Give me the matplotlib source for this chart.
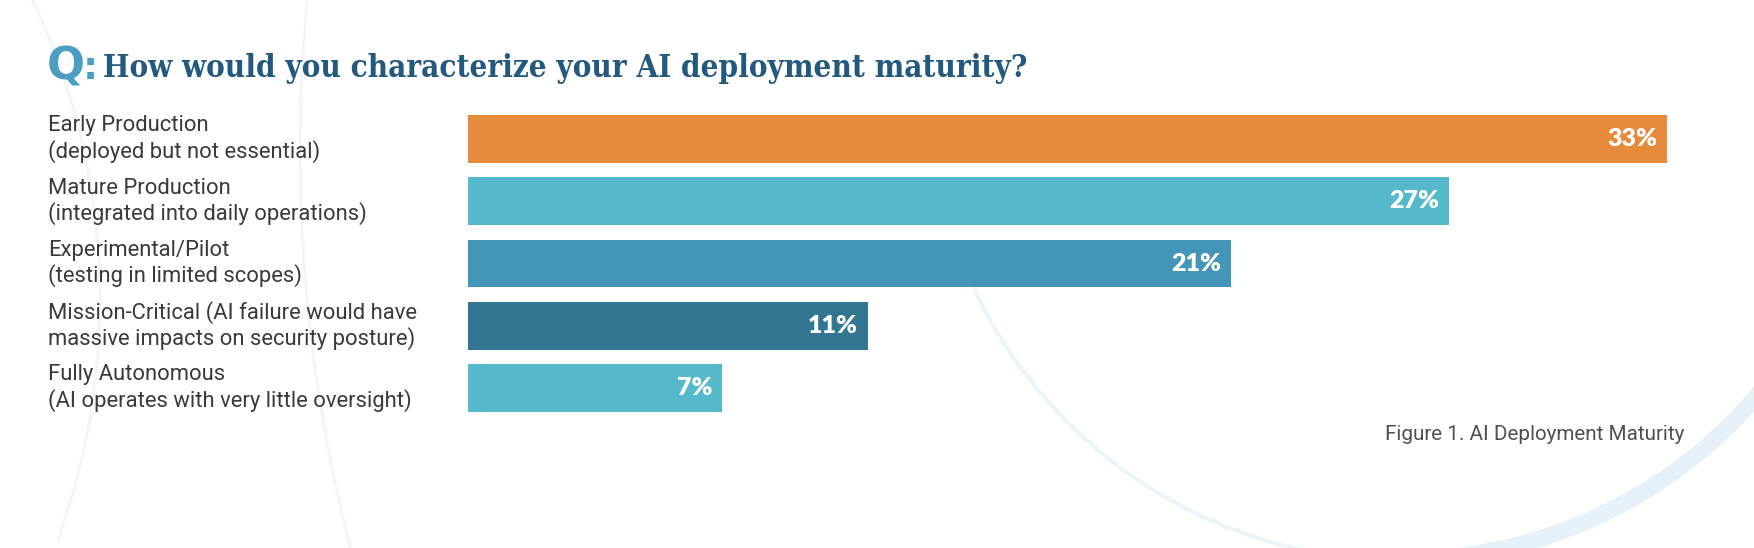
import matplotlib.pyplot as plt
import matplotlib.transforms as mtransforms
from matplotlib.patches import Arc

# data
categories = [
    "Early Production\n(deployed but not essential)",
    "Mature Production\n(integrated into daily operations)",
    "Experimental/Pilot\n(testing in limited scopes)",
    "Mission-Critical (AI failure would have\nmassive impacts on security posture)",
    "Fully Autonomous\n(AI operates with very little oversight)",
]
values = [33, 27, 21, 11, 7]
bar_colors = ["#E68A3B", "#55B9CB", "#4496B9", "#337692", "#55B9CB"]

title = "How would you characterize your AI deployment maturity?"
caption = "Figure 1. AI Deployment Maturity"

W, H = 1754, 548
fig = plt.figure(figsize=(W / 100, H / 100), dpi=100)
fig.patch.set_facecolor("white")
renderer = fig.canvas.get_renderer()


def fy(py):
    # pixel from top -> figure fraction
    return 1 - py / H


def fit(t, width):
    # scale font so the text is the given pixel width
    w = t.get_window_extent(renderer).width
    t.set_fontsize(t.get_fontsize() * width / w)


# faint decorative arcs in the background
bg = fig.add_axes([0, 0, 1, 1], zorder=0)
bg.set_xlim(0, W)
bg.set_ylim(H, 0)
bg.axis("off")
bg.add_patch(Arc((1400, 90), 940, 940, theta1=10, theta2=160, color="#edf5fb", lw=3))
bg.add_patch(Arc((1400, 90), 940, 940, theta1=15, theta2=85, color="#e6f1fa", lw=12))
bg.add_patch(Arc((1900, 150), 3200, 3200, theta1=150, theta2=200, color="#f0f6fb", lw=2))
bg.add_patch(Arc((-600, 300), 1400, 1400, theta1=-30, theta2=20, color="#f0f6fb", lw=2))

# bars
ax = fig.add_axes([468 / W, fy(419.1), (1667 - 468) / W, (419.1 - 107.9) / H], zorder=2)
ax.patch.set_alpha(0)
ypos = list(range(len(values)))
ax.barh(ypos, values, height=0.771, color=bar_colors)
ax.set_xlim(0, max(values))
ax.set_ylim(len(values) - 0.5, -0.5)
ax.axis("off")

vals_txt = []
for i, v in enumerate(values):
    t = ax.annotate(f"{v}%", xy=(v, i), xytext=(-10, 0), textcoords="offset pixels",
                    ha="right", va="center", color="white", fontsize=18,
                    family="Lato", fontweight="heavy")
    vals_txt.append(t)
w33 = vals_txt[0].get_window_extent(renderer).width
for t in vals_txt:
    t.set_fontsize(18 * 50 / w33)

# category labels, left aligned
trans = mtransforms.blended_transform_factory(fig.transFigure, ax.transData)
labels = []
for i, c in enumerate(categories):
    t = fig.text(48 / W, i, c, transform=trans, ha="left", va="center",
                 color="#3a3a3a", family="Roboto", fontsize=14.5, linespacing=1.18)
    labels.append(t)
lt = fig.text(0, 0, categories[3].split("\n")[0], family="Roboto", fontsize=14.5)
w0 = lt.get_window_extent(renderer).width
lt.remove()
for t in labels:
    t.set_fontsize(14.5 * 367 / w0)

# title
q = fig.text(47 / W, fy(80), "Q", color="#4C9DC2", family="DejaVu Sans",
             fontweight="bold", fontsize=36, va="baseline")
fit(q, 38)
fig.text(83 / W, fy(79), ":", color="#4C9DC2", family="DejaVu Sans",
         fontweight="bold", fontsize=27, va="baseline")
tt = fig.text(103 / W, fy(77), title, color="#23587F", family="DejaVu Serif",
              fontweight="bold", fontstretch="condensed", fontsize=21, va="baseline")
fit(tt, 927)

# caption
cp = fig.text(1684 / W, fy(435), caption, ha="right", va="center", color="#505050",
              family="Roboto", fontsize=15)
fit(cp, 301)

fig.savefig("out.png", dpi=100, facecolor="white")
